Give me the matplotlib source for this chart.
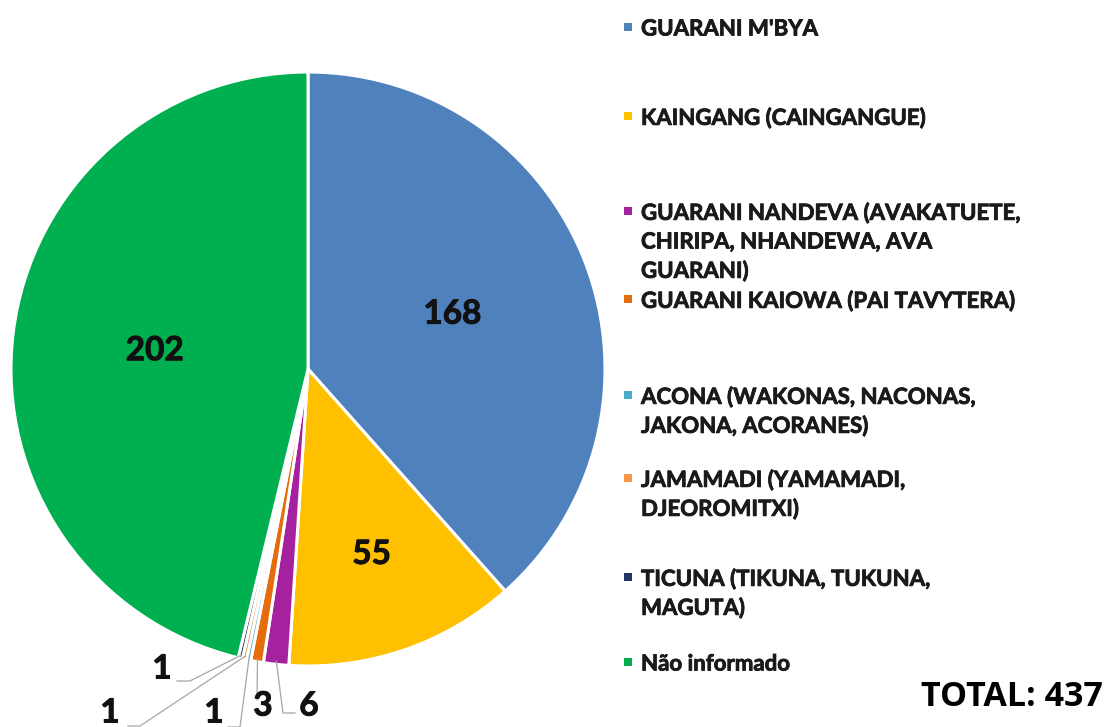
import numpy as np
import matplotlib
matplotlib.use('Agg')
import matplotlib.pyplot as plt
import matplotlib.patheffects as pe
from matplotlib.patches import Rectangle

# data
etnias = ["GUARANI M'BYA", "KAINGANG (CAINGANGUE)",
          "GUARANI NANDEVA (AVAKATUETE,\nCHIRIPA, NHANDEWA, AVA\nGUARANI)",
          "GUARANI KAIOWA (PAI TAVYTERA)",
          "ACONA (WAKONAS, NACONAS,\nJAKONA, ACORANES)",
          "JAMAMADI (YAMAMADI,\nDJEOROMITXI)",
          "TICUNA (TIKUNA, TUKUNA,\nMAGUTA)",
          "Não informado"]
valores = [168, 55, 6, 3, 1, 1, 1, 202]
cores = ['#4F81BD', '#FFC000', '#A5219E', '#E46C0A', '#4BACC6', '#F79646', '#1F3864', '#00B050']

W, H = 1111, 727
fig = plt.figure(figsize=(W / 100, H / 100), dpi=100)
fig.patch.set_facecolor('white')

# pie centre / radius in pixels
cx, cy, R = 308, 369, 297
ax = fig.add_axes([(cx - R) / W, (H - cy - R) / H, 2 * R / W, 2 * R / H])

wedges, _ = ax.pie(valores, colors=cores, startangle=90, counterclock=False, radius=1,
                   wedgeprops=dict(edgecolor='white', linewidth=2.2))
ax.set_xlim(-1, 1)
ax.set_ylim(-1, 1)
ax.set_aspect('equal')
ax.axis('off')

negrito = [pe.withStroke(linewidth=0.7, foreground='#111111')]


def px2data(px, py):
    return (px - cx) / R, (cy - py) / R


def mid_angle(w):
    return np.deg2rad((w.theta1 + w.theta2) / 2)


# labels inside big slices
dist_inside = {0: 0.52, 1: 0.66, 7: 0.52}
for i, r in dist_inside.items():
    a = mid_angle(wedges[i])
    ax.text(r * np.cos(a), r * np.sin(a), str(valores[i]), ha='center', va='center',
            fontsize=24, fontweight='bold', family='Lato', color='#111111', path_effects=negrito)

# labels of the small slices, with leader lines (knee and text pos in pixels)
pequenos = {
    2: [(283, 713), (295, 713), (309, 706)],
    3: [(257, 700), (257, 700), (263, 706)],
    4: [(240, 727), (228, 727), (214, 713)],
    5: [(140, 726), (128, 726), (110, 713)],
    6: [(190, 681), (177, 681), (162, 669)],
}
for i, (knee, end, txt) in pequenos.items():
    a = mid_angle(wedges[i])
    x0, y0 = np.cos(a) * 0.99, np.sin(a) * 0.99
    k = px2data(*knee)
    e = px2data(*end)
    ax.plot([x0, k[0], e[0]], [y0, k[1], e[1]], color='#A6A6A6', lw=0.9, clip_on=False)
    t = px2data(*txt)
    ax.text(t[0], t[1], str(valores[i]), ha='center', va='center', fontsize=24,
            fontweight='bold', family='Lato', color='#111111', clip_on=False,
            path_effects=negrito)

# legend drawn by hand to keep the uneven spacing of the original
leg_y = [27, 116, 211, 299, 395, 478, 577, 662]
for nome, cor, y in zip(etnias, cores, leg_y):
    fig.patches.append(Rectangle((624 / W, 1 - (y + 4) / H), 8 / W, 8 / H,
                                 transform=fig.transFigure, facecolor=cor, edgecolor='none'))
    for j, linha in enumerate(nome.split('\n')):
        fig.text(641 / W, 1 - (y + 29 * j) / H, linha, ha='left', va='center_baseline',
                 fontsize=16, fontweight='bold', family='Lato', color='#1a1a1a',
                 path_effects=[pe.withStroke(linewidth=0.6, foreground='#1a1a1a')])

fig.text(1103 / W, 1 - 697 / H, 'TOTAL: 437', ha='right', va='center', fontsize=24.5,
         fontweight='bold', family='Open Sans', color='black')

fig.savefig('out.png', dpi=100, facecolor='white')
